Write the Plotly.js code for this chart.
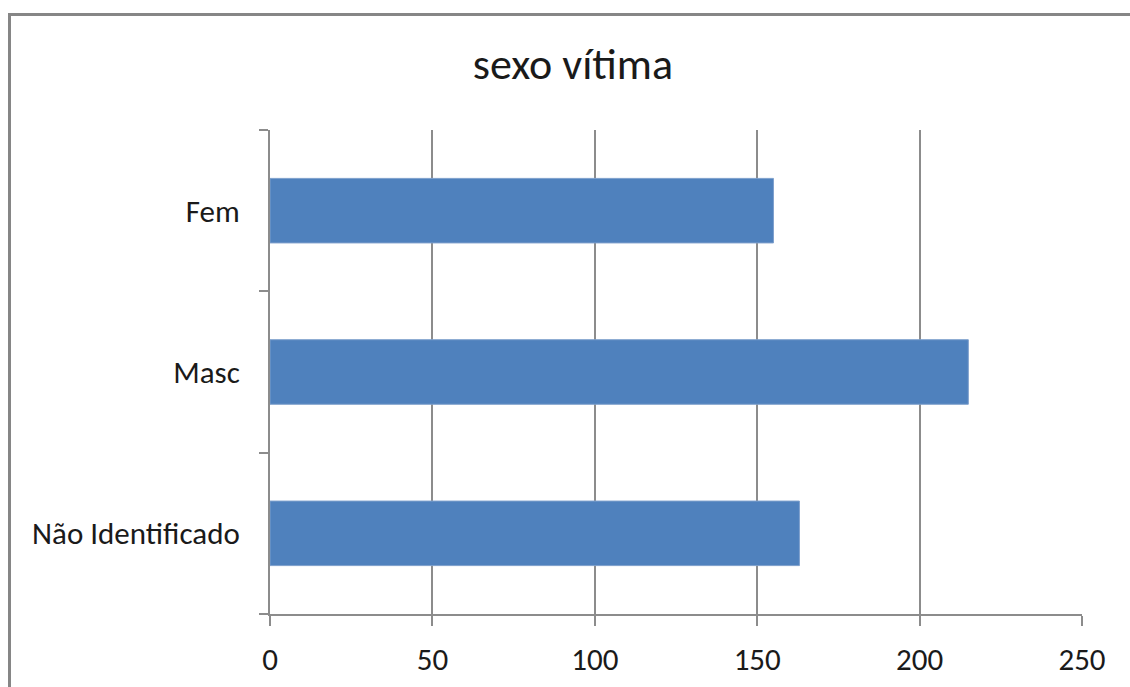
<!DOCTYPE html>
<html>
<head>
<meta charset="utf-8">
<script src="https://cdn.plot.ly/plotly-3.0.1.min.js"></script>
<style>
html,body{margin:0;padding:0;background:#fff;}
#chart{width:1130px;height:687px;}
</style>
</head>
<body>
<div id="chart"></div>
<script>
const categories = ['Não Identificado', 'Masc', 'Fem'];
const values = [163, 215, 155];
const xTicks = [0, 50, 100, 150, 200, 250];
const chartTitle = 'sexo vítima';

const fontFam = 'Carlito, Lato, "Open Sans", sans-serif';
const gridCol = '#8c8c8c';
const textCol = '#1a1a1a';

const L = 270, R = 1082, T = 130, B = 614, W = 1130, H = 687;
const pw = R - L, ph = B - T;

const trace = {
  type: 'bar',
  orientation: 'h',
  y: categories,
  x: values,
  marker: {color: '#4f81bd', line: {color: '#7d9fcc', width: 1}},
  hoverinfo: 'x+y'
};

const layout = {
  width: W, height: H,
  margin: {l: L, r: W - R, t: T, b: H - B, pad: 0},
  paper_bgcolor: '#fff', plot_bgcolor: '#fff',
  showlegend: false,
  bargap: 0.6,
  title: {text: chartTitle, x: 0.507, xanchor: 'center', y: 1 - 64 / H, yanchor: 'middle',
          font: {family: fontFam, size: 44, color: textCol}},
  xaxis: {
    range: [0, 250], tickvals: xTicks, ticktext: xTicks.map(String),
    showgrid: true, gridcolor: gridCol, gridwidth: 2,
    zeroline: false,
    showline: true, linecolor: gridCol, linewidth: 2,
    ticks: 'outside', ticklen: 10, tickwidth: 2, tickcolor: gridCol,
    ticklabelstandoff: 7,
    tickfont: {family: fontFam, size: 31, color: textCol},
    fixedrange: true
  },
  yaxis: {
    type: 'category', categoryorder: 'array', categoryarray: categories,
    showgrid: false, zeroline: false,
    showline: true, linecolor: gridCol, linewidth: 2,
    ticks: 'outside', tickson: 'boundaries', ticklen: 9, tickwidth: 2, tickcolor: gridCol,
    ticklabelstandoff: 22,
    tickfont: {family: fontFam, size: 31, color: textCol},
    fixedrange: true
  },
  shapes: [{
    type: 'rect', xref: 'paper', yref: 'paper',
    x0: (9.5 - L) / pw, x1: (W + 20 - L) / pw,
    y0: (B - (H + 20)) / ph, y1: (B - 14.5) / ph,
    line: {color: '#868686', width: 3}, fillcolor: 'rgba(0,0,0,0)', layer: 'below'
  }]
};

Plotly.newPlot('chart', [trace], layout, {displayModeBar: false, staticPlot: true});
</script>
</body>
</html>
